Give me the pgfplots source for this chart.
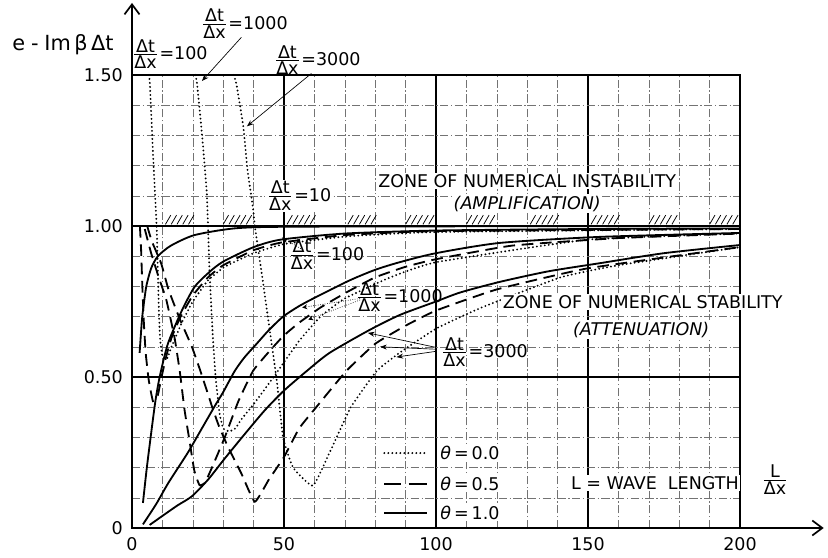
\documentclass[border=0pt]{standalone}
\usepackage{pgfplots}
\pgfplotsset{compat=1.18}
\usepackage{fontspec}
\setmainfont{DejaVu Sans}
\usetikzlibrary{arrows.meta}
\newcommand\dtdx[1]{$\frac{\mbox{Δt}}{\mbox{Δx}}$\kern0.5pt=#1}
\tikzset{
  solid1/.style={black, line width=1.1pt},
  dash1/.style={black, line width=1.1pt, dash pattern=on 7pt off 4pt},
  dot1/.style={black, line width=1.25pt, line cap=round, dash pattern=on 0pt off 2.4pt},
  wb/.style={fill=white, inner sep=1pt},
}
\begin{document}
\begin{tikzpicture}[x=1pt,y=1pt,font=\fontsize{10.5}{12}\selectfont]
\useasboundingbox (-79.2,-17.4) rectangle (417.6,316.8);
\begin{axis}[
  at={(0,0)}, anchor=south west, scale only axis,
  width=364.8pt, height=271.8pt,
  xmin=0, xmax=200, ymin=0, ymax=1.5,
  axis line style={line width=1pt},
  xtick={0,50,100,150,200}, xticklabels={0,50,100,150,200},
  ytick={0,0.5,1,1.5}, yticklabels={0,0.50,1.00,1.50},
  minor xtick={10,20,30,40,60,70,80,90,110,120,130,140,160,170,180,190},
  minor ytick={0.1,0.2,0.3,0.4,0.6,0.7,0.8,0.9,1.1,1.2,1.3,1.4},
  grid=both,
  major grid style={black, line width=0.9pt},
  minor grid style={black!55, line width=0.3pt, dash pattern=on 5pt off 1.5pt on 0.8pt off 1.5pt},
  major tick length=0pt, minor tick length=0pt,
  /pgf/number format/assume math mode=true,
  ticklabel style={font=\fontsize{10.5}{12}\selectfont},
  xticklabel style={yshift=-2pt},
  yticklabel style={xshift=-2pt},
  clip=false,
]
% ---------- theta = 1.0 (solid) ----------
% dt/dx = 10
\addplot[solid1, smooth, tension=0.4] coordinates {(2.5,0.58)(3.2,0.68)(3.6,0.72)(4.7,0.80)(6.3,0.86)(8.5,0.90)(12.8,0.935)(20.6,0.97)(34.8,0.993)(60,0.998)(200,1.0)};
% dt/dx = 100
\addplot[solid1, smooth, tension=0.4] coordinates {(3.6,0.083)(5,0.21)(7.55,0.41)(9.1,0.50)(11.8,0.61)(16.4,0.72)(20.7,0.80)(26.3,0.855)(30.5,0.885)(40,0.93)(49,0.955)(70,0.975)(100,0.985)(150,0.99)(200,0.992)};
% dt/dx = 1000
\addplot[solid1, smooth, tension=0.4] coordinates {(3.6,0.012)(8,0.08)(12,0.15)(18.4,0.25)(23,0.33)(27.3,0.405)(30,0.45)(33.8,0.52)(37,0.565)(41,0.61)(45,0.655)(49.7,0.70)(55,0.735)(60.6,0.765)(71.6,0.82)(80,0.855)(88,0.88)(100,0.91)(121,0.944)(154,0.964)(200,0.977)};
% dt/dx = 3000
\addplot[solid1, smooth, tension=0.4] coordinates {(5.8,0.01)(10,0.04)(15,0.075)(19.7,0.105)(25,0.16)(30.5,0.23)(37,0.31)(43.7,0.39)(50,0.455)(57.5,0.52)(65,0.58)(78,0.655)(88,0.705)(100,0.75)(108,0.78)(121,0.815)(137,0.85)(154,0.877)(175,0.91)(200,0.937)};
% ---------- theta = 0.5 (dashed) ----------
\addplot[dash1, smooth, tension=0.25] coordinates {(2.6,1.0)(3.0,0.92)(3.4,0.8)(3.9,0.68)(4.5,0.58)(5.5,0.49)(6.9,0.42)(8.5,0.44)(9.5,0.49)(11.3,0.57)(13,0.63)(16,0.70)(20,0.77)(25,0.83)(30,0.87)(40,0.92)(49,0.945)(70,0.97)(100,0.983)(200,0.99)};
\addplot[dash1, smooth, tension=0.25] coordinates {(4.2,0.99)(6.3,0.91)(8.8,0.83)(11.3,0.755)(14,0.63)(15.7,0.52)(17.3,0.39)(18.9,0.29)(20.5,0.19)(22.2,0.142)(24,0.15)(26.3,0.20)(30.5,0.30)(35,0.42)(39.8,0.52)(44.3,0.575)(49.7,0.635)(55,0.68)(62,0.73)(70.5,0.78)(80,0.83)(90,0.865)(100,0.89)(125,0.935)(160,0.96)(200,0.975)};
\addplot[dash1, smooth, tension=0.25] coordinates {(5,1.0)(6.5,0.95)(9.6,0.876)(12,0.79)(15.8,0.69)(19.7,0.60)(22.5,0.52)(26.4,0.40)(28.5,0.34)(31.5,0.27)(36,0.18)(40.4,0.087)(45,0.16)(50,0.235)(55,0.33)(60.6,0.40)(70.5,0.52)(80,0.61)(90,0.67)(100,0.72)(120,0.79)(150,0.86)(200,0.93)};
% ---------- theta = 0.0 (dotted) ----------
\addplot[dot1, smooth, tension=0.25] coordinates {(5.6,1.5)(5.9,1.467)(7,1.22)(8.1,1.0)(8.5,0.85)(8.9,0.70)(9.3,0.62)(10,0.57)(11.5,0.56)(13,0.6)(16.4,0.68)(20,0.75)(25,0.82)(30.5,0.865)(40,0.91)(50,0.94)(70,0.965)(100,0.98)(200,0.99)};
\addplot[dot1, smooth, tension=0.25] coordinates {(20.8,1.5)(21.3,1.48)(22.3,1.38)(23.4,1.26)(24.6,1.11)(25,1.0)(25.5,0.85)(26.5,0.65)(27.5,0.50)(28.8,0.38)(30,0.33)(32,0.32)(34,0.33)(36,0.36)(40,0.41)(43.7,0.46)(48,0.52)(55,0.62)(62,0.70)(70,0.76)(85,0.83)(100,0.88)(150,0.955)(200,0.975)};
\addplot[dot1, smooth, tension=0.25] coordinates {(33.5,1.5)(34.4,1.467)(36.6,1.33)(38,1.185)(39.8,1.06)(40.4,1.0)(43,0.82)(45.3,0.655)(47.6,0.49)(49.7,0.30)(53,0.2)(59.5,0.14)(65,0.25)(72,0.40)(80.5,0.52)(88,0.58)(100,0.66)(115,0.73)(141,0.83)(160,0.87)(200,0.93)};
% ---------- annotations ----------
\node at (axis cs:-22.7,1.60) {\fontsize{12.5}{14}\selectfont e\;-\;Im\,β\,Δt};
\node at (axis cs:12.5,1.57) {\dtdx{100}};
\node at (axis cs:37,1.67) {\dtdx{1000}};
\draw[line width=0.4pt,-{Stealth[length=4pt,width=3pt]}] (axis cs:36,1.625) -- (axis cs:23,1.48);
\node at (axis cs:61,1.55) {\dtdx{3000}};
\draw[line width=0.4pt,-{Stealth[length=4pt,width=3pt]}] (axis cs:59,1.505) -- (axis cs:37.8,1.33);
\node[wb] at (axis cs:55,1.10) {\dtdx{10}};
\node[wb] at (axis cs:130,1.149) {ZONE OF NUMERICAL INSTABILITY};
\node[wb] at (axis cs:130,1.073) {\itshape (AMPLIFICATION)};
\node at (axis cs:64,0.905) {\dtdx{100}};
\draw[line width=0.4pt,densely dotted,-{Stealth[length=4pt,width=3pt]}] (axis cs:55.5,0.925) -- (axis cs:49.3,0.962);
\node at (axis cs:88,0.765) {\dtdx{1000}};
\draw[line width=0.4pt,densely dotted,-{Stealth[length=3pt,width=3pt]}] (axis cs:75,0.76) -- (axis cs:56,0.73);
\draw[line width=0.4pt,densely dotted,-{Stealth[length=3pt,width=3pt]}] (axis cs:75,0.755) -- (axis cs:58,0.69);
\node[wb] at (axis cs:168,0.748) {ZONE OF NUMERICAL STABILITY};
\node[wb] at (axis cs:167.5,0.656) {\itshape (ATTENUATION)};
\node at (axis cs:116,0.583) {\dtdx{3000}};
\draw[line width=0.4pt,-{Stealth[length=4pt,width=3pt]}] (axis cs:100,0.598) -- (axis cs:77.6,0.646);
\draw[line width=0.4pt,-{Stealth[length=4pt,width=3pt]}] (axis cs:100,0.592) -- (axis cs:81.6,0.60);
\draw[line width=0.4pt,-{Stealth[length=4pt,width=3pt]}] (axis cs:100,0.585) -- (axis cs:87,0.566);
% legend
\draw[dot1] (axis cs:83,0.248) -- (axis cs:97,0.248);
\draw[black,line width=1.1pt] (axis cs:83,0.146) -- (axis cs:88.5,0.146) (axis cs:91,0.146) -- (axis cs:97,0.146);
\draw[solid1] (axis cs:83,0.05) -- (axis cs:97,0.05);
\node[wb,anchor=west] at (axis cs:100.8,0.248) {\textit{θ}\,=\,0.0};
\node[wb,anchor=west] at (axis cs:100.8,0.146) {\textit{θ}\,=\,0.5};
\node[wb,anchor=west] at (axis cs:100.8,0.05) {\textit{θ}\,=\,1.0};
\node[wb] at (axis cs:172,0.149) {L = WAVE\ \ LENGTH};
\node at (axis cs:211.5,0.16) {$\frac{\mbox{L}}{\mbox{Δx}}$};
\end{axis}
% axis arrows
\draw[line width=1pt,-{Straight Barb[length=6pt,width=9pt]}] (364.8,0) -- (415,0);
\draw[line width=1pt,-{Straight Barb[length=6pt,width=9pt]}] (0,271.8) -- (0,315);
% hatching on the 1.00 line
\foreach \s in {11,30,51,71,90,110,131,151,170,190} {
  \foreach \k in {0,...,4} {
    \draw[line width=0.45pt] ({1.824*(\s+1.9*\k)},182.2) -- ++(3.2,5.5);
  }
}
\end{tikzpicture}
\end{document}
